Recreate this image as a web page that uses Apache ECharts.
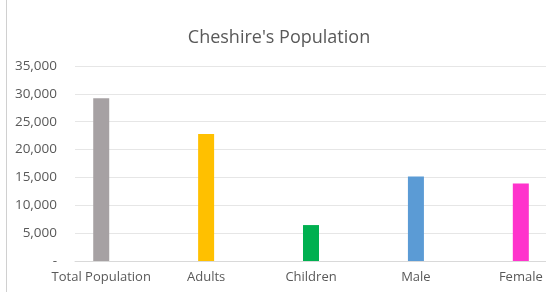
<!DOCTYPE html>
<html>
<head>
<meta charset="utf-8">
<script src="https://cdn.jsdelivr.net/npm/echarts@6/dist/echarts.min.js"></script>
<style>
  html, body { margin: 0; padding: 0; background: #fff; }
  #chart { width: 546px; height: 292px; }
</style>
</head>
<body>
<div id="chart"></div>
<script>
// chart data
const categories = ['Total Population', 'Adults', 'Children', 'Male', 'Female']
const population = [29200, 22800, 6450, 15150, 13900]
const barColors = ['#a6a1a3', '#ffc000', '#00b050', '#5b9bd5', '#ff33cc']
const yTicks = [0, 5000, 10000, 15000, 20000, 25000, 30000, 35000]

const chart = echarts.init(document.getElementById('chart'))
const font = '"Open Sans", "Noto Sans", sans-serif'

const option = {
  animation: false,
  title: {
    text: "Cheshire's Population",
    left: 274,
    top: 24,
    textAlign: 'center',
    textStyle: { fontFamily: font, fontSize: 18, fontWeight: 'normal', color: '#595959' }
  },
  graphic: [
    // chart area left border
    { type: 'line', shape: { x1: 6.5, y1: 0, x2: 6.5, y2: 292 }, style: { stroke: '#d0d0d0', lineWidth: 1 } }
  ],
  grid: { left: 75, right: 0, top: 66, bottom: 31 },
  xAxis: {
    type: 'value',
    // index 0 sits ~26px in from the plot edge, categories 105px apart
    min: -0.25,
    max: 4.24,
    axisLine: { show: true, onZero: true, lineStyle: { color: '#d9d9d9' } },
    axisTick: { show: false },
    splitLine: { show: false },
    axisLabel: {
      customValues: categories.map((c, i) => i),
      formatter: (v) => categories[Math.round(v)],
      margin: 10,
      color: '#595959',
      fontFamily: font,
      fontSize: 13
    }
  },
  yAxis: {
    type: 'value',
    min: yTicks[0],
    max: yTicks[yTicks.length - 1],
    interval: 5000,
    axisLine: { show: false },
    axisTick: { show: false },
    splitLine: { lineStyle: { color: '#e6e6e6' } },
    axisLabel: {
      margin: 18,
      color: '#595959',
      fontFamily: font,
      fontSize: 13.5,
      formatter: (v) => (v === 0 ? '-' : v.toLocaleString('en-US'))
    }
  },
  series: [{
    type: 'bar',
    barWidth: 16,
    data: population.map((v, i) => ({ value: [i, v], itemStyle: { color: barColors[i] } }))
  }]
}
chart.setOption(option)
</script>
</body>
</html>
